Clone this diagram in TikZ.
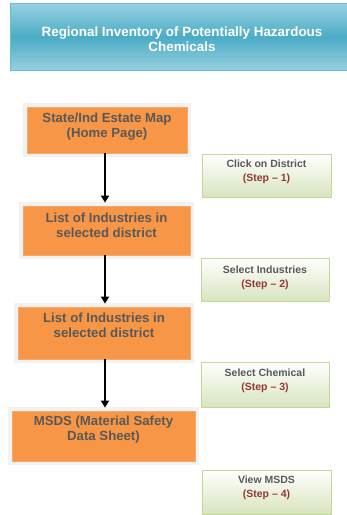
\documentclass[tikz,border=0pt]{standalone}
\usepackage{fontspec}
\setmainfont{Liberation Sans}
\usetikzlibrary{arrows.meta}
\definecolor{titletop}{HTML}{97D0DF}
\definecolor{titlemid}{HTML}{4BACC6}
\definecolor{titleline}{HTML}{6CBBD0}
\definecolor{orangefill}{HTML}{F79646}
\definecolor{orangeline}{HTML}{FAA865}
\definecolor{framegrey}{HTML}{F2F2F2}
\definecolor{greytext}{HTML}{595959}
\definecolor{steptext}{HTML}{953735}
\definecolor{greenbot}{HTML}{D7E4BD}
\definecolor{greenline}{HTML}{C3D69B}
\tikzset{
  x=1pt, y=-1pt,
  titlebox/.style={draw=titleline, line width=1pt, top color=titletop, bottom color=titletop, middle color=titlemid, inner sep=0pt, anchor=north west},
  pagebox/.style={fill=orangefill, draw=orangeline, line width=0.8pt, inner sep=0pt,
     preaction={draw=framegrey, line width=8pt}},
  pagetext/.style={font=\bfseries\fontsize{13.2}{15}\selectfont, text=greytext, align=center, inner sep=0pt},
  stepbox/.style={draw=greenline, line width=1pt, top color=white, bottom color=greenbot, inner sep=0pt, anchor=north west},
  steptextstyle/.style={font=\bfseries\fontsize{10.5}{14}\selectfont, text=greytext, align=center, inner sep=0pt},
  flow/.style={line width=2.3pt, -{Triangle[length=7pt,width=8pt]}, shorten >=3pt}
}
\begin{document}
\begin{tikzpicture}
\useasboundingbox (0,0) rectangle (347,515);
\begin{scope}
\clip (0,0) rectangle (347,515);
\node[titlebox, minimum width=344pt, minimum height=67pt] (title) at (10,3) {};
\end{scope}
\node[font=\bfseries\fontsize{13.4}{15}\selectfont, text=white, align=center, inner sep=0pt] (titletext) at (182,39.5) {Regional Inventory of Potentially Hazardous\\Chemicals};

% orange boxes
\node[pagebox, minimum width=160pt, minimum height=46pt] (b1) at (107,130) {};
\node[pagebox, minimum width=167pt, minimum height=49pt] (b2) at (106.5,230.5) {};
\node[pagebox, minimum width=172pt, minimum height=52pt] (b3) at (104,333) {};
\node[pagebox, minimum width=183pt, minimum height=50pt] (b4) at (103.5,436) {};

\node[pagetext] (t1) at (107,126.5) {State/Ind Estate Map\\(Home Page)};
\node[pagetext] (t2) at (106.5,225.5) {List of Industries in\\selected district};
\node[pagetext] (t3) at (104,325.5) {List of Industries in\\selected district};
\node[pagetext] (t4) at (103.5,429.5) {MSDS (Material Safety\\Data Sheet)};

% arrows
\coordinate (a1s) at (105,153);
\coordinate (a1e) at (105,206);
\coordinate (a2s) at (105,255);
\coordinate (a2e) at (105,307);
\coordinate (a3s) at (105,359);
\coordinate (a3e) at (105,411);
\draw[flow] (b1.south -| a1s) -- (b2.north -| a1e);
\draw[flow] (b2.south -| a2s) -- (b3.north -| a2e);
\draw[flow] (b3.south -| a3s) -- (b4.north -| a3e);

% green step boxes
\node[stepbox, minimum width=129pt, minimum height=43pt] (g1) at (202,154) {};
\node[stepbox, minimum width=128pt, minimum height=43pt] (g2) at (201,258) {};
\node[stepbox, minimum width=128pt, minimum height=45pt] (g3) at (201,362) {};
\node[stepbox, minimum width=129pt, minimum height=44pt] (g4) at (202,470) {};

\node[steptextstyle] (s1) at (266.5,172) {Click on District\\\textcolor{steptext}{(Step -- 1)}};
\node[steptextstyle] (s2) at (265,277.5) {Select Industries\\\textcolor{steptext}{(Step -- 2)}};
\node[steptextstyle] (s3) at (265,381) {Select Chemical\\\textcolor{steptext}{(Step -- 3)}};
\node[steptextstyle] (s4) at (266.5,488) {View MSDS\\\textcolor{steptext}{(Step -- 4)}};
\end{tikzpicture}
\end{document}
